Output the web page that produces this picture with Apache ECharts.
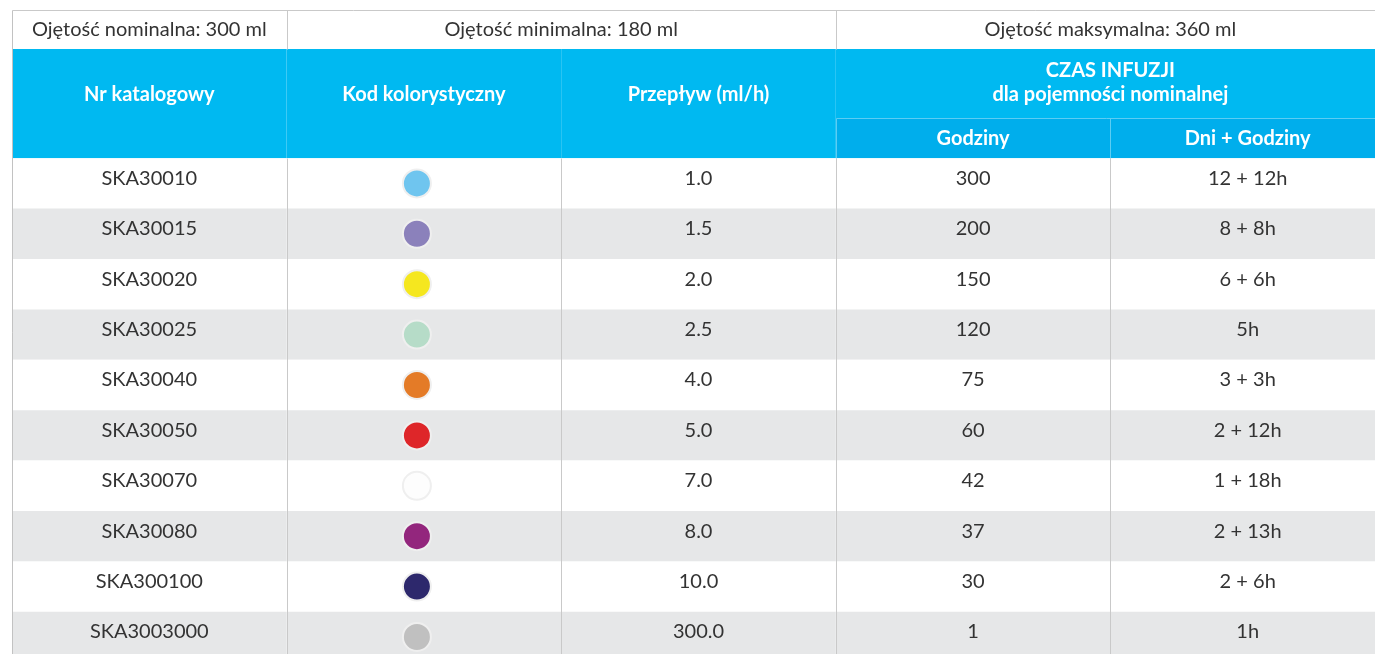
<!DOCTYPE html>
<html>
<head>
<meta charset="utf-8">
<title>Tabela SKA300</title>
<script src="https://cdn.jsdelivr.net/npm/echarts@6/dist/echarts.min.js"></script>
<style>
  html, body { margin: 0; padding: 0; background: #fff; }
  #main { width: 1375px; height: 654px; }
</style>
</head>
<body>
<div id="main"></div>
<script>
// dane tabeli
const catalogNumbers = ['SKA30010', 'SKA30015', 'SKA30020', 'SKA30025', 'SKA30040',
                        'SKA30050', 'SKA30070', 'SKA30080', 'SKA300100', 'SKA3003000'];
const colorCodes = ['#6fc5ef', '#8b81bb', '#f5e71f', '#b6dcc8', '#e47b27',
                    '#de2629', '#fdfdfd', '#93267d', '#2d286c', '#c0c0c0'];
const flowRates = ['1.0', '1.5', '2.0', '2.5', '4.0', '5.0', '7.0', '8.0', '10.0', '300.0'];
const hours = ['300', '200', '150', '120', '75', '60', '42', '37', '30', '1'];
const daysHours = ['12 + 12h', '8 + 8h', '6 + 6h', '5h', '3 + 3h', '2 + 12h', '1 + 18h', '2 + 13h', '2 + 6h', '1h'];
const volumeLabels = ['Ojętość nominalna: 300 ml', 'Ojętość minimalna: 180 ml', 'Ojętość maksymalna: 360 ml'];
const columnTitles = ['Nr katalogowy', 'Kod kolorystyczny', 'Przepływ (ml/h)'];
const infusionTitle = 'CZAS INFUZJI\ndla pojemności nominalnej';
const infusionSubTitles = ['Godziny', 'Dni + Godziny'];

// os Y w jednostkach wierszy: wiersze danych 0..10, naglowek nad nimi
const Y_TOP = -2.94, Y_BLUE = -2.166, Y_SUB = -0.797;
const FONT = 'Lato, "Noto Sans", sans-serif';
// tabela wychodzi poza okno: prawa i dolna krawedz przycieta
const X_MAX = 1363 / 274.6, Y_MAX = Y_TOP + 644 / 50.4;

let cells = [];
function cell(x0, x1, y0, y1, fill, text, opts) {
    cells.push(Object.assign({ x0, x1, y0, y1, fill, text, color: '#333333', weight: 'normal', dy: 0 }, opts || {}));
}
// wiersz z objetosciami
cell(0, 1, Y_TOP, Y_BLUE, '#ffffff', volumeLabels[0]);
cell(1, 3, Y_TOP, Y_BLUE, '#ffffff', volumeLabels[1]);
cell(3, 5, Y_TOP, Y_BLUE, '#ffffff', volumeLabels[2]);
// niebieski naglowek
const head = { color: '#ffffff', weight: 'bold' };
columnTitles.forEach((t, i) => cell(i, i + 1, Y_BLUE, 0, '#00b9f1', t, Object.assign({ dy: -9.5 }, head)));
cell(3, 5, Y_BLUE, Y_SUB, '#00b9f1', infusionTitle, Object.assign({ dy: -1 }, head));
infusionSubTitles.forEach((t, i) => cell(3 + i, 4 + i, Y_SUB, 0, '#00aeec', t, head));
// wiersze danych
catalogNumbers.forEach((nr, r) => {
    const bg = r % 2 ? '#e6e7e8' : '#ffffff';
    [nr, '', flowRates[r], hours[r], daysHours[r]].forEach((t, c) => cell(c, c + 1, r, r + 1, bg, t, { dy: -5 }));
});

// linie: [x0, x1, y0, y1, kolor]
const lines = [
    [0, 5, Y_TOP, Y_TOP, '#c9c9c9'],
    [0, 0, Y_TOP, 10, '#c2c2c2'],
    [1, 1, Y_TOP, Y_BLUE, '#c9c9c9'],
    [3, 3, Y_TOP, Y_BLUE, '#c9c9c9'],
    [3, 5, Y_SUB, Y_SUB, '#5ccdf3'],
    [3, 3, Y_SUB, 0, '#5ccdf3'],
    [4, 4, Y_SUB, 0, '#5ccdf3']
];
[1, 2, 3, 4].forEach(x => lines.push([x, x, 0, 10, '#c9c9c9']));

const myChart = echarts.init(document.getElementById('main'));
const option = {
    animation: false,
    grid: { left: 12, top: 10, right: 0, bottom: 0 },
    xAxis: { type: 'value', min: 0, max: X_MAX, show: false },
    yAxis: { type: 'value', min: Y_TOP, max: Y_MAX, inverse: true, show: false },
    series: [
        {
            type: 'custom',
            z: 1,
            clip: false,
            data: cells.map(c => [c.x0, c.x1, c.y0, c.y1]),
            renderItem(params, api) {
                const c = cells[params.dataIndex];
                const p0 = api.coord([api.value(0), api.value(2)]);
                const p1 = api.coord([api.value(1), api.value(3)]);
                return {
                    type: 'group',
                    children: [
                        { type: 'rect', shape: { x: p0[0], y: p0[1], width: p1[0] - p0[0], height: p1[1] - p0[1] },
                          style: { fill: c.fill } },
                        { type: 'text', x: (p0[0] + p1[0]) / 2, y: (p0[1] + p1[1]) / 2 + c.dy,
                          style: { text: c.text, fill: c.color, align: 'center', verticalAlign: 'middle',
                                   font: c.weight + ' 20px ' + FONT, lineHeight: 24 } }
                    ]
                };
            }
        },
        {
            type: 'custom',
            z: 2,
            clip: false,
            data: lines.map(l => l.slice(0, 4)),
            renderItem(params, api) {
                const p0 = api.coord([api.value(0), api.value(2)]);
                const p1 = api.coord([api.value(1), api.value(3)]);
                const x0 = Math.round(p0[0]) + 0.5, x1 = Math.round(p1[0]) + 0.5;
                const y0 = Math.round(p0[1]) + 0.5, y1 = Math.round(p1[1]) + 0.5;
                return {
                    type: 'line',
                    shape: { x1: x0, y1: y0, x2: x1, y2: y1 },
                    style: { stroke: lines[params.dataIndex][4], lineWidth: 1 }
                };
            }
        },
        {
            type: 'scatter',
            z: 3,
            symbolSize: 28,
            symbolOffset: [-7, 0],
            silent: true,
            clip: false,
            data: colorCodes.map((col, r) => ({
                value: [1.5, r + 0.5],
                itemStyle: { color: col, opacity: 1, borderColor: '#efefef', borderWidth: 2 }
            }))
        }
    ]
};
myChart.setOption(option);
window.onresize = function () {
    myChart.resize();
};
</script>
</body>
</html>
